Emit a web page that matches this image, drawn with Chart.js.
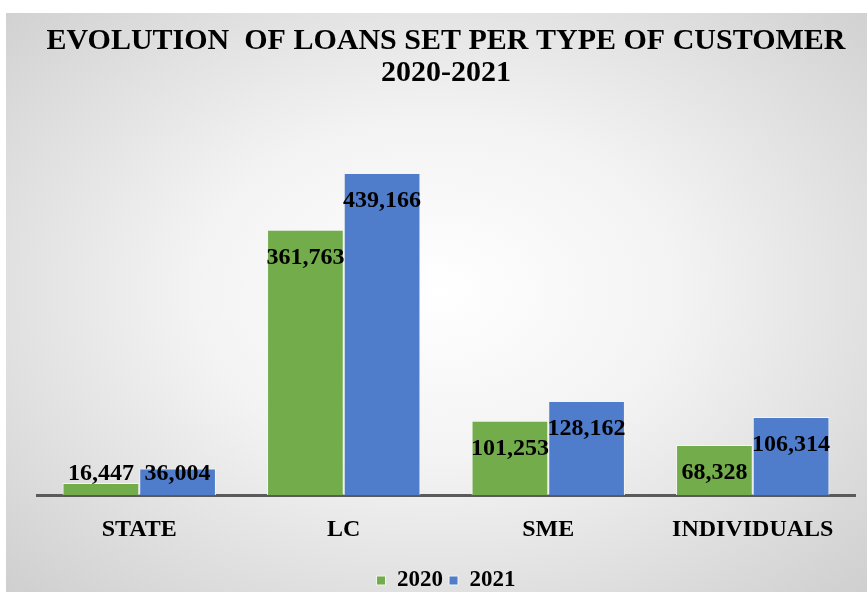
<!DOCTYPE html>
<html>
<head>
<meta charset="utf-8">
<title>Evolution of loans set per type of customer</title>
<script src="https://cdn.jsdelivr.net/npm/chart.js@4.4.0/dist/chart.umd.min.js"></script>
<style>
  html, body { margin: 0; padding: 0; background: #ffffff; }
  #panel {
    position: absolute; left: 6px; top: 13px; width: 861px; height: 579px;
    background: radial-gradient(ellipse at 50% 48%, #ffffff 0%, #f3f3f3 40%, #cfcfcf 100%);
  }
  #wrap { position: absolute; left: 0; top: 0; width: 867px; height: 592px; }
</style>
</head>
<body>
<div id="panel"></div>
<div id="wrap"><canvas id="chart" width="867" height="592"></canvas></div>
<script>
// Loans set per type of customer
const categories = ["STATE", "LC", "SME", "INDIVIDUALS"]
const loans2020 = [16447, 361763, 101253, 68328]
const loans2021 = [36004, 439166, 128162, 106314]
const seriesLabels = ["2020", "2021"]

const serif = "'Liberation Serif', 'Times New Roman', serif"

// Writes the value of each bar just below its top, kept above the axis line
const barValues = {
  id: "barValues",
  afterDatasetsDraw(chart) {
    const { ctx, chartArea } = chart
    ctx.save()
    ctx.font = "bold 24px " + serif
    ctx.fillStyle = "#000000"
    ctx.textAlign = "center"
    ctx.textBaseline = "middle"
    chart.data.datasets.forEach((ds, i) => {
      chart.getDatasetMeta(i).data.forEach((bar, j) => {
        const y = Math.min(bar.y + 28, chartArea.bottom - 21)
        ctx.fillText(ds.data[j].toLocaleString("en-US"), bar.x, y)
      })
    })
    ctx.restore()
  },
}

const ctx = document.getElementById("chart").getContext("2d")

new Chart(ctx, {
  type: "bar",
  data: {
    labels: categories,
    datasets: [
      {
        label: seriesLabels[0],
        data: loans2020,
        backgroundColor: "#72ac4b",
        borderColor: "#f2f5f0",
        borderWidth: 1,
      },
      {
        label: seriesLabels[1],
        data: loans2021,
        backgroundColor: "#4f7dcc",
        borderColor: "#f2f5f0",
        borderWidth: 1,
      },
    ],
  },
  options: {
    responsive: false,
    animation: false,
    layout: {
      padding: { left: 37, right: 12, top: 13, bottom: -10 },
    },
    datasets: {
      bar: {
        categoryPercentage: 0.75,
        barPercentage: 1.0,
      },
    },
    scales: {
      x: {
        grid: { display: false, drawTicks: false },
        border: { display: true, color: "#5a5a5a", width: 3 },
        ticks: {
          color: "#000000",
          padding: 20,
          font: { family: serif, size: 24, weight: "bold" },
        },
        afterFit(scale) {
          scale.height = 68
        },
      },
      y: {
        display: false,
        min: 0,
        max: 500000,
      },
    },
    plugins: {
      title: {
        display: true,
        text: ["EVOLUTION  OF LOANS SET PER TYPE OF CUSTOMER", "2020-2021"],
        color: "#000000",
        font: { family: serif, size: 30, weight: "bold", lineHeight: 1.04 },
        padding: { top: 13, bottom: 40 },
      },
      legend: {
        position: "bottom",
        labels: {
          color: "#000000",
          boxWidth: 9,
          boxHeight: 9,
          padding: 6,
          font: { family: serif, size: 23, weight: "bold" },
        },
      },
      tooltip: { enabled: false },
    },
  },
  plugins: [barValues],
})
</script>
</body>
</html>
